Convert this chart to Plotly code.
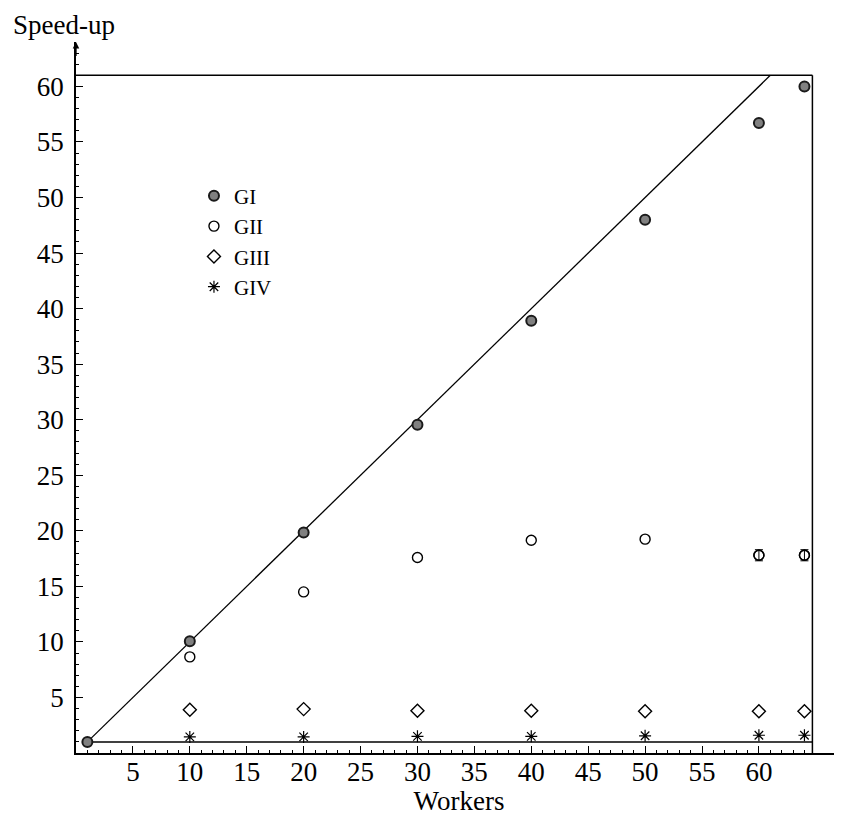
import plotly.graph_objects as go

# ---- data ----
workers_gi = [1, 10, 20, 30, 40, 50, 60, 64]
speedup_gi = [1.0, 10.05, 19.85, 29.55, 38.9, 48.0, 56.7, 60.0]

workers = [10, 20, 30, 40, 50, 60, 64]
speedup_gii = [8.65, 14.5, 17.6, 19.15, 19.25, 17.8, 17.8]
speedup_giii = [3.9, 3.95, 3.8, 3.8, 3.75, 3.75, 3.75]
speedup_giv = [1.45, 1.45, 1.5, 1.5, 1.55, 1.6, 1.6]

# error bars on GII (only the last two measurements show them)
workers_gii_err = [60, 64]
speedup_gii_err = [17.8, 17.8]
err_gii = [0.5, 0.5]

ideal_x = [1, 61]
ideal_y = [1, 61]
baseline = 1
frame_x = 64.7
frame_y = 61

x_ticks = [5, 10, 15, 20, 25, 30, 35, 40, 45, 50, 55, 60]
y_ticks = [5, 10, 15, 20, 25, 30, 35, 40, 45, 50, 55, 60]
x_minor = list(range(1, 65))
y_minor = list(range(1, 64))

FONT = "Liberation Serif"

fig = go.Figure()

fig.add_trace(go.Scatter(x=ideal_x, y=ideal_y, mode="lines",
                         line=dict(color="black", width=1.3),
                         showlegend=False, hoverinfo="skip"))

fig.add_trace(go.Scatter(x=workers_gi, y=speedup_gi, mode="markers", name="GI",
                         marker=dict(symbol="circle", size=10, color="#808080",
                                     line=dict(color="#1a1a1a", width=2))))
fig.add_trace(go.Scatter(x=workers, y=speedup_gii, mode="markers", name="GII",
                         marker=dict(symbol="circle-open", size=10, color="black",
                                     line=dict(color="black", width=1.4))))
fig.add_trace(go.Scatter(x=workers_gii_err, y=speedup_gii_err, mode="markers",
                         showlegend=False,
                         marker=dict(symbol="circle-open", size=10, color="black",
                                     line=dict(color="black", width=1.4)),
                         error_y=dict(type="data", array=err_gii, color="black",
                                      thickness=1, width=4)))
fig.add_trace(go.Scatter(x=workers, y=speedup_giii, mode="markers", name="GIII",
                         marker=dict(symbol="diamond-open", size=10, color="black",
                                     line=dict(color="black", width=1.4))))
fig.add_trace(go.Scatter(x=workers, y=speedup_giv, mode="markers", name="GIV",
                         marker=dict(symbol="asterisk-open", size=10, color="black",
                                     line=dict(color="black", width=1.2))))

# frame / reference lines
fig.add_shape(type="line", xref="x", yref="y", x0=baseline, x1=frame_x, y0=baseline, y1=baseline,
              line=dict(color="black", width=1.5), layer="below")
fig.add_shape(type="line", xref="x", yref="y", x0=0, x1=frame_x, y0=frame_y, y1=frame_y,
              line=dict(color="black", width=1.5), layer="below")
fig.add_shape(type="line", xref="x", yref="y", x0=frame_x, x1=frame_x, y0=0, y1=frame_y,
              line=dict(color="black", width=1.5), layer="below")

# y axis arrow
fig.add_annotation(x=0, y=64, ax=0, ay=62.6, xref="x", yref="y", axref="x", ayref="y",
                   showarrow=True, arrowhead=2, arrowsize=1, arrowwidth=1.3,
                   arrowcolor="black", text="")

fig.add_annotation(text="Speed-up", xref="paper", yref="paper", x=-0.085, y=1.0478,
                   xanchor="left", yanchor="top", showarrow=False,
                   font=dict(family=FONT, size=27, color="black"))

fig.update_xaxes(range=[0, 67.3], showline=True, linecolor="black", linewidth=1.5,
                 showgrid=False, zeroline=False, ticks="inside", ticklen=7,
                 tickwidth=1, tickcolor="black", tickmode="array", tickvals=x_ticks,
                 ticktext=[str(v) for v in x_ticks], ticklabelstandoff=-6,
                 minor=dict(tickmode="array", tickvals=x_minor, ticks="inside",
                            ticklen=3, tickcolor="black", tickwidth=1),
                 tickfont=dict(family=FONT, size=27, color="black"),
                 title=dict(text="Workers", font=dict(family=FONT, size=27, color="black"),
                            standoff=0))
fig.update_yaxes(range=[0, 64], showline=True, linecolor="black", linewidth=1.5,
                 showgrid=False, zeroline=False, ticks="inside", ticklen=7,
                 tickwidth=1, tickcolor="black", tickmode="array", tickvals=y_ticks,
                 ticktext=[str(v) for v in y_ticks], ticklabelstandoff=5,
                 minor=dict(tickmode="array", tickvals=y_minor, ticks="inside",
                            ticklen=3, tickcolor="black", tickwidth=1),
                 tickfont=dict(family=FONT, size=27, color="black"))

fig.update_layout(width=834, height=808, plot_bgcolor="white", paper_bgcolor="white",
                  margin=dict(l=68, r=0, t=34, b=63, autoexpand=False),
                  legend=dict(x=0.154, y=0.812, xanchor="left", yanchor="top",
                              bgcolor="rgba(0,0,0,0)", borderwidth=0, tracegroupgap=0,
                              font=dict(family=FONT, size=21, color="black")),
                  showlegend=True)

fig.write_html("out.html")
